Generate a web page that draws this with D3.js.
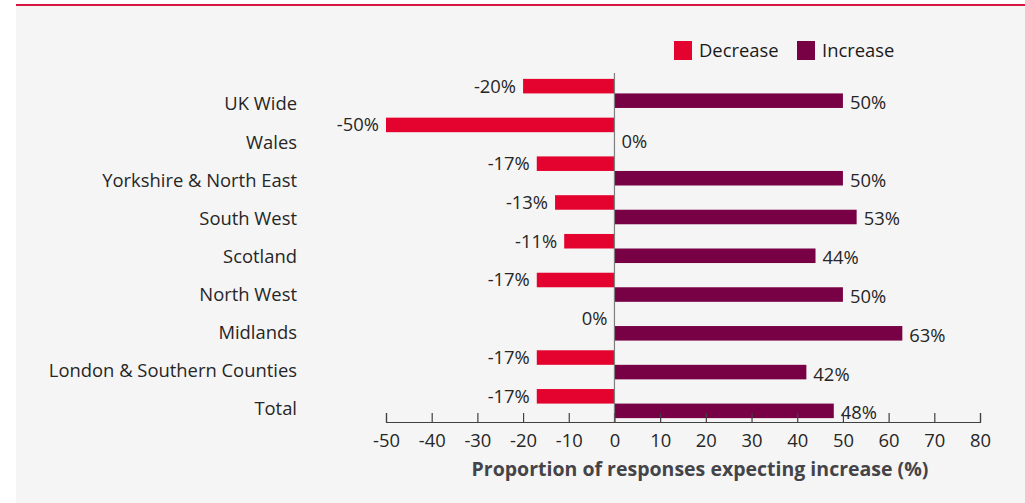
<!DOCTYPE html>
<html>
<head>
<meta charset="utf-8">
<script src="https://cdn.jsdelivr.net/npm/d3@7"></script>
<style>
  html, body { margin: 0; padding: 0; background: #ffffff; }
  svg { display: block; }
  text { font-family: "Open Sans", "Noto Sans", sans-serif; }
</style>
</head>
<body>
<svg id="chart" width="1025" height="503"></svg>
<script>
// Regional survey: share of responses expecting a decrease / increase
const regions = ["UK Wide", "Wales", "Yorkshire & North East", "South West", "Scotland",
                 "North West", "Midlands", "London & Southern Counties", "Total"];
const decreaseValues = [-20, -50, -17, -13, -11, -17, 0, -17, -17];
const increaseValues = [50, 0, 50, 53, 44, 50, 63, 42, 48];
const xTicks = [-50, -40, -30, -20, -10, 0, 10, 20, 30, 40, 50, 60, 70, 80];
const seriesNames = ["Decrease", "Increase"];
const seriesColors = ["#e4032e", "#780045"];
const axisTitle = "Proportion of responses expecting increase (%)";

const svg = d3.select("#chart");
const W = 1025, H = 503;
const FS = 18.4;

// panel background and top rule
svg.append("rect").attr("x", 16).attr("y", 5).attr("width", W - 16).attr("height", H - 5)
  .attr("fill", "#f5f5f5");
svg.append("rect").attr("x", 16).attr("y", 4).attr("width", W - 16).attr("height", 2)
  .attr("fill", "#d9163f");

const x = d3.scaleLinear().domain([-50, 80]).range([386, 980]);
const y = d3.scaleBand().domain(regions).range([75, 422]).paddingInner(0.25).paddingOuter(0.1);
const sub = d3.scaleBand().domain(seriesNames).range([0, y.bandwidth()]);
// category labels sit on their own, slightly tighter, spacing
const yLabel = d3.scalePoint().domain(regions).range([104, 409]);

const rows = regions.map((r, i) => ({ region: r, values: [decreaseValues[i], increaseValues[i]] }));

// bars with value labels
const g = svg.append("g");
rows.forEach(row => {
  row.values.forEach((v, j) => {
    const yy = y(row.region) + sub(seriesNames[j]);
    g.append("rect")
      .attr("x", x(Math.min(0, v)))
      .attr("y", yy)
      .attr("width", Math.abs(x(v) - x(0)))
      .attr("height", sub.bandwidth())
      .attr("fill", seriesColors[j]);
    const neg = j === 0;
    g.append("text")
      .attr("x", neg ? x(v) - 7 : x(v) + 7)
      .attr("y", yy + sub.bandwidth() / 2 + (neg ? 0 : 2))
      .attr("dy", "0.35em")
      .attr("text-anchor", neg ? "end" : "start")
      .attr("font-size", FS)
      .attr("fill", "#262626")
      .text(v + "%");
  });
});

// zero line
svg.append("line").attr("x1", x(0)).attr("x2", x(0)).attr("y1", 73).attr("y2", 422)
  .attr("stroke", "#7f7f7f").attr("stroke-width", 1.2);

// category labels
svg.append("g").selectAll("text").data(regions).join("text")
  .attr("x", 297)
  .attr("y", d => yLabel(d))
  .attr("dy", "0.35em")
  .attr("text-anchor", "end")
  .attr("font-size", FS)
  .attr("fill", "#262626")
  .text(d => d);

// x axis with ticks pointing up
const axis = d3.axisBottom(x).tickValues(xTicks).tickFormat(d => String(d))
  .tickSizeInner(-9).tickSizeOuter(-9).tickPadding(12);
const ax = svg.append("g").attr("transform", "translate(0,422)").call(axis);
ax.select(".domain").attr("stroke", "#404040").attr("stroke-width", 1.2);
ax.selectAll(".tick line").attr("stroke", "#404040").attr("stroke-width", 1.2);
ax.selectAll(".tick text").attr("font-size", FS).attr("fill", "#262626")
  .attr("font-family", "'Open Sans', 'Noto Sans', sans-serif");

svg.append("text")
  .attr("x", 700)
  .attr("y", 476)
  .attr("text-anchor", "middle")
  .attr("font-size", 19.5)
  .attr("font-weight", "bold")
  .attr("fill", "#444448")
  .text(axisTitle);

// legend
const legendX = [674, 797];
seriesNames.forEach((name, i) => {
  svg.append("rect").attr("x", legendX[i]).attr("y", 41).attr("width", 18).attr("height", 19)
    .attr("fill", seriesColors[i]);
  svg.append("text").attr("x", legendX[i] + 25).attr("y", 51).attr("dy", "0.35em")
    .attr("font-size", FS).attr("fill", "#1a1a1a").text(name);
});
</script>
</body>
</html>
